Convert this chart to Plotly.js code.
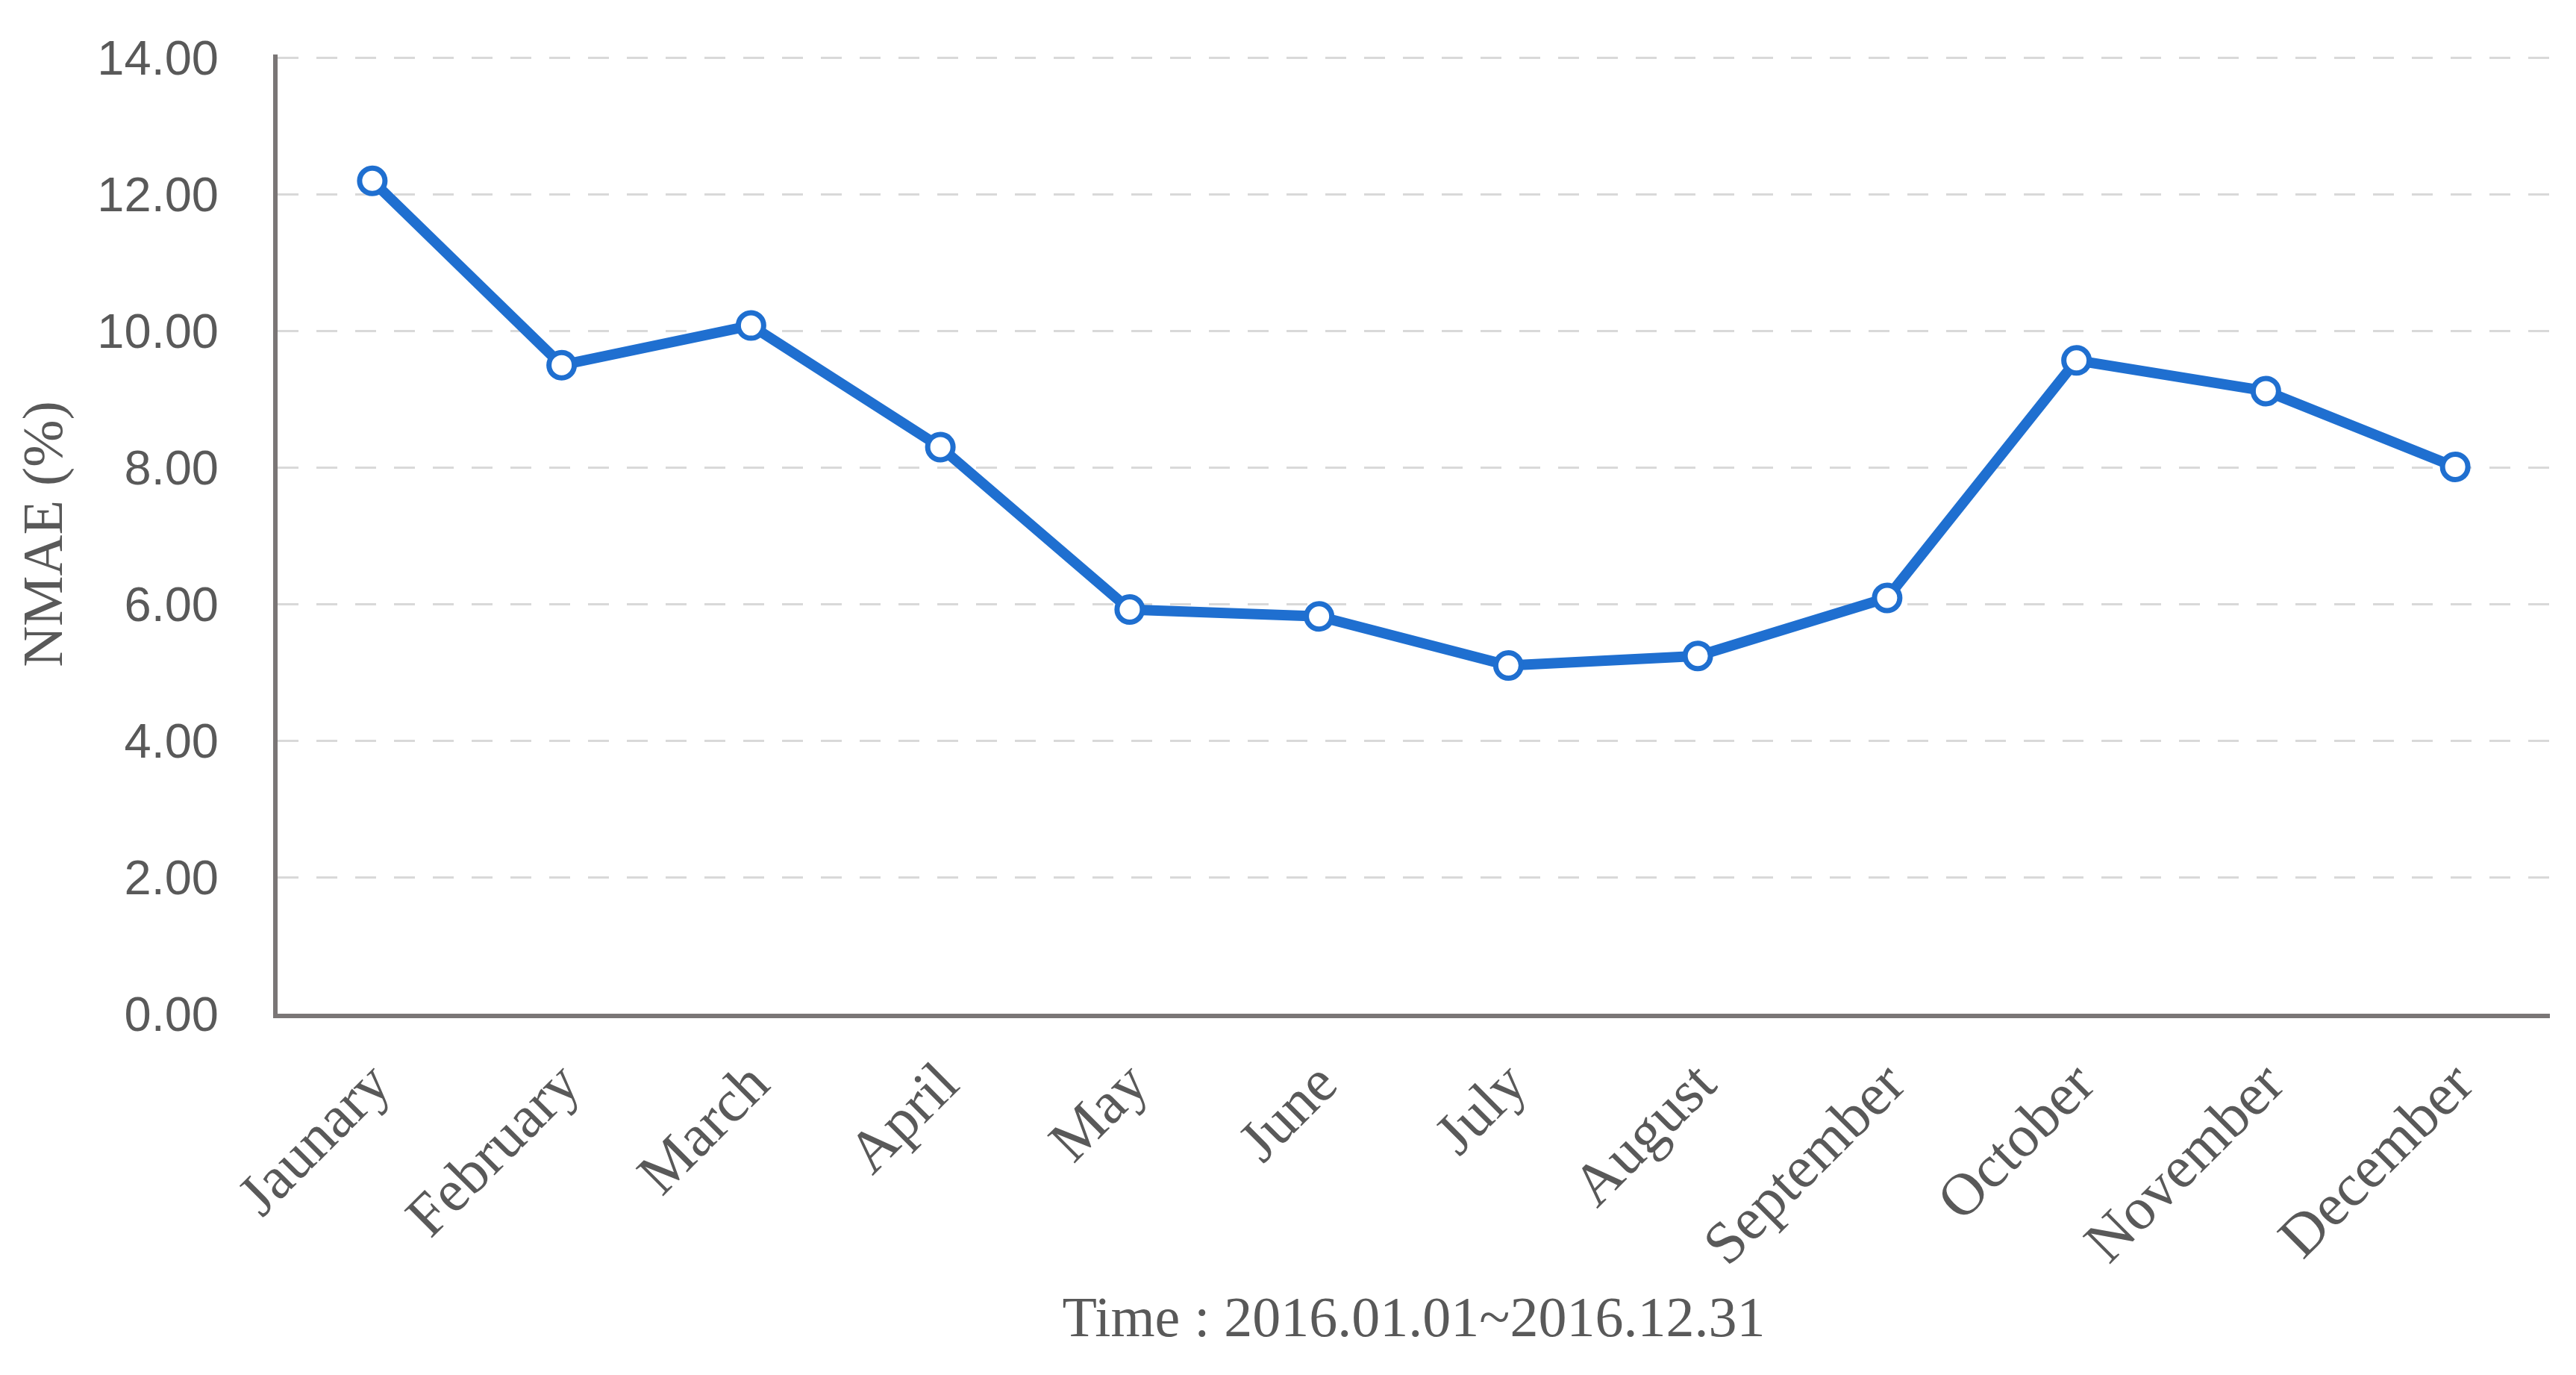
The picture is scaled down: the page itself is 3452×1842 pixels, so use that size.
<!DOCTYPE html>
<html>
<head>
<meta charset="utf-8">
<script src="https://cdn.plot.ly/plotly-3.0.1.min.js"></script>
<style>html,body{margin:0;padding:0;background:#fff;}#chart{width:3452px;height:1842px;}</style>
</head>
<body>
<div id="chart"></div>
<script>
const months = ["Jaunary","February","March","April","May","June","July","August","September","October","November","December"];
const nmae = [12.20, 9.50, 10.08, 8.30, 5.92, 5.82, 5.10, 5.24, 6.09, 9.57, 9.12, 8.01];
const yTicks = [0, 2, 4, 6, 8, 10, 12, 14];
const yTickText = ["0.00","2.00","4.00","6.00","8.00","10.00","12.00","14.00"];
const xTitle = "Time : 2016.01.01~2016.12.31";
const yTitle = "NMAE (%)";

const trace = {
  x: months,
  y: nmae,
  type: "scatter",
  mode: "lines+markers",
  line: {color: "#1f6fd0", width: 14},
  marker: {symbol: "circle", size: 34, color: "#ffffff", line: {color: "#1f6fd0", width: 7}},
  hoverinfo: "skip",
  cliponaxis: false
};

const layout = {
  width: 3452,
  height: 1842,
  paper_bgcolor: "#ffffff",
  plot_bgcolor: "#ffffff",
  showlegend: false,
  margin: {l: 372, r: 35, t: 73, b: 484},
  xaxis: {
    type: "category",
    range: [-0.5, 11.5],
    showgrid: false,
    showline: true,
    linecolor: "#7a7676",
    linewidth: 6,
    ticks: "",
    tickangle: -45,
    ticklabelstandoff: 8,
    tickfont: {family: "Liberation Serif, serif", size: 80, color: "#595959"},
    title: {text: xTitle, font: {family: "Liberation Serif, serif", size: 76, color: "#595959"}, standoff: 30},
    automargin: false,
    zeroline: false
  },
  yaxis: {
    range: [0, 14.05],
    tickvals: yTicks,
    ticktext: yTickText,
    showgrid: true,
    gridcolor: "#d9d9d9",
    gridwidth: 3,
    griddash: "28px,24px",
    showline: true,
    linecolor: "#7a7676",
    linewidth: 6,
    ticks: "",
    ticklabelstandoff: 60,
    tickfont: {family: "Liberation Sans, Arial, sans-serif", size: 65, color: "#595959"},
    title: {text: yTitle, font: {family: "Liberation Serif, serif", size: 76, color: "#595959"}, standoff: 24},
    automargin: false,
    zeroline: false
  }
};

Plotly.newPlot("chart", [trace], layout, {staticPlot: true, displayModeBar: false});
</script>
</body>
</html>
